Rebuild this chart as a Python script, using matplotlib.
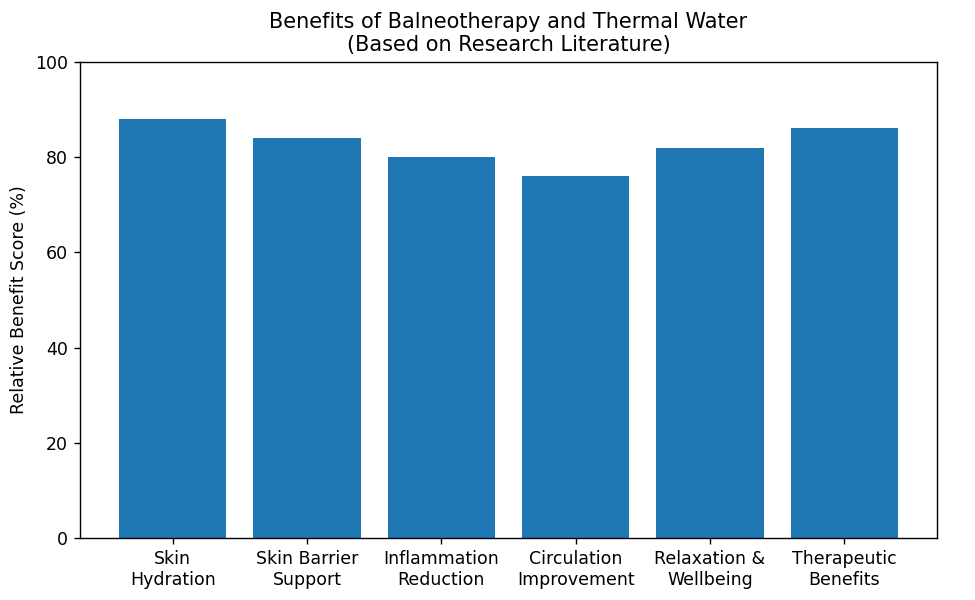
import matplotlib
matplotlib.use("Agg")
import matplotlib.pyplot as plt

categories = ["Skin\nHydration", "Skin Barrier\nSupport", "Inflammation\nReduction",
              "Circulation\nImprovement", "Relaxation &\nWellbeing", "Therapeutic\nBenefits"]
values = [88, 84, 80, 76, 82, 86]

fig = plt.figure(figsize=(7.8, 4.8), dpi=125)
ax = fig.add_axes([0.082, 0.103, 0.879, 0.794])
ax.bar(categories, values, color="#1f77b4")
ax.set_ylim(0, 100)
ax.set_ylabel("Relative Benefit Score (%)")
ax.set_title("Benefits of Balneotherapy and Thermal Water\n(Based on Research Literature)")
fig.savefig("out.png", dpi=125)
